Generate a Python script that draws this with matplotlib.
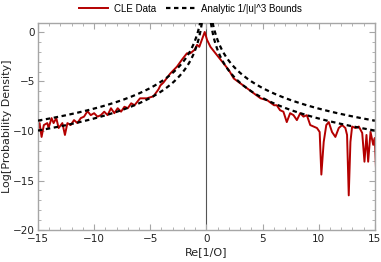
import numpy as np
import matplotlib
matplotlib.use("Agg")
import matplotlib.pyplot as plt
from matplotlib.ticker import MultipleLocator

# CLE data (Re[1/O], Log[Probability Density])
cle_u = [-15.07, -14.86, -14.68, -14.48, -14.17, -14.06, -13.79, -13.61,
         -13.37, -13.16, -12.83, -12.6, -12.38, -12.09, -11.79, -11.49,
         -11.19, -10.9, -10.59, -10.3, -10.0, -9.7, -9.4, -9.1, -8.8,
         -8.5, -8.2, -7.9, -7.6, -7.3, -7.0, -6.7, -6.4, -5.91, -5.31,
         -4.72, -4.27, -4.1, -3.82, -3.22, -2.62, -2.18, -1.73, -1.43,
         -1.05, -0.83, -0.63, -0.15, 0.06, 0.36, 0.81, 1.41, 2.0, 2.44,
         3.04, 3.64, 4.23, 4.83, 5.43, 6.03, 6.27, 6.56, 6.86, 7.16,
         7.46, 7.76, 8.06, 8.36, 8.65, 8.95, 9.25, 9.55, 9.85, 10.09,
         10.24, 10.45, 10.68, 10.9, 11.19, 11.49, 11.79, 12.09, 12.38,
         12.53, 12.68, 12.83, 12.98, 13.28, 13.58, 13.88, 14.08, 14.26,
         14.41, 14.62, 14.86, 15.0, 15.1]
cle_y = [-10.1, -9.2, -10.6, -9.4, -9.2, -9.7, -8.7, -9.2,
         -8.7, -9.7, -9.2, -10.4, -9.2, -9.4, -8.9, -9.2,
         -8.7, -8.55, -8.0, -8.4, -8.2, -8.55, -8.4, -8.05, -8.4,
         -7.7, -8.2, -7.7, -8.05, -7.55, -7.7, -7.2, -7.4, -6.7, -6.7,
         -6.5, -5.8, -5.4, -5.1, -4.2, -3.5, -2.8, -2.15, -2.15,
         -1.8, -1.3, -1.5, 0.0, -0.8, -1.5, -2.15, -3.0, -3.85, -4.7,
         -5.2, -5.7, -6.2, -6.7, -6.9, -7.4, -7.4, -7.9, -8.05, -9.1,
         -8.2, -8.4, -8.9, -8.2, -8.55, -8.4, -9.4, -9.55, -9.7, -10.1,
         -14.4, -11.1, -9.4, -9.1, -10.1, -10.6, -9.7, -9.4, -9.7,
         -10.4, -16.5, -11.1, -9.55, -9.7, -9.55, -10.2, -13.1, -10.4,
         -13.1, -10.1, -11.4, -10.7, -13.6]

# log prefactors of the two analytic C/|u|^3 bounds
bound_logc = [-0.83, -1.83]

frame_gray = "#a6a6a6"
text_gray = "#222222"

fig = plt.figure(figsize=(3.81, 2.62), dpi=100)
ax = fig.add_axes([0.0997, 0.122, 0.884, 0.79])

u = np.concatenate([np.linspace(-15, -0.05, 400), np.linspace(0.05, 15, 400)])
for i, c in enumerate(bound_logc):
    ax.plot(u, c - 3 * np.log(np.abs(u)), color="black", lw=1.6,
            ls=(0, (2, 1.6)), label="Analytic 1/|u|^3 Bounds" if i == 0 else None,
            zorder=3)
ax.plot(cle_u, cle_y, color="#b40000", lw=1.4, label="CLE Data", zorder=2)
ax.axvline(0, color="#555555", lw=0.8, zorder=1)

ax.set_xlim(-15, 15)
ax.set_ylim(-20, 0.9)
ax.xaxis.set_major_locator(MultipleLocator(5))
ax.xaxis.set_minor_locator(MultipleLocator(1))
ax.yaxis.set_major_locator(MultipleLocator(5))
ax.yaxis.set_minor_locator(MultipleLocator(1))
ax.tick_params(which="both", direction="in", top=True, right=True,
               color=frame_gray, labelsize=7.5, labelcolor=text_gray)
ax.tick_params(axis="x", pad=3)
ax.tick_params(axis="y", pad=2)
ax.tick_params(which="major", length=4, width=0.8)
ax.tick_params(which="minor", length=2, width=0.6)
ax.set_xticks([-15, -10, -5, 0, 5, 10, 15])
ax.set_xticklabels(["\u221215", "\u221210", "\u22125", "0", "5", "10", "15"])
ax.set_yticks([-20, -15, -10, -5, 0])
ax.set_yticklabels(["\u221220", "\u221215", "\u221210", "\u22125", "0"])
for s in ax.spines.values():
    s.set_color(frame_gray)
    s.set_linewidth(1.0)

ax.set_xlabel("Re[1/O]", fontsize=8, color=text_gray, labelpad=2)
ax.set_ylabel("Log[Probability Density]", fontsize=8, color=text_gray, labelpad=1)

handles, labels = ax.get_legend_handles_labels()
fig.legend(handles[::-1], labels[::-1], loc="upper center", ncol=2,
           bbox_to_anchor=(0.5, 1.02), frameon=False,
           prop={"family": "Liberation Sans", "size": 7},
           handlelength=3.0, columnspacing=1.0, handletextpad=0.6)

fig.savefig("out.png", dpi=100)
